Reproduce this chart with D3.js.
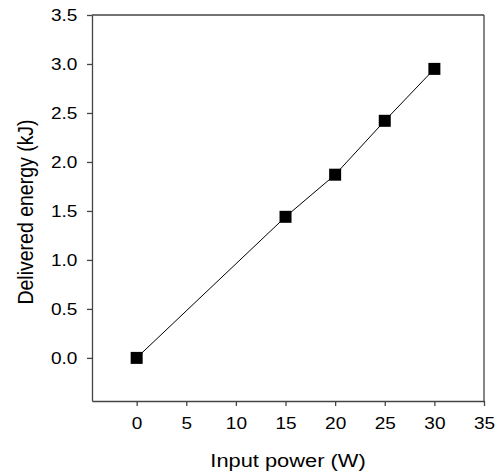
<!DOCTYPE html>
<html><head><meta charset="utf-8">
<script src="https://cdn.jsdelivr.net/npm/d3@7"></script>
<style>body{margin:0;background:#fff}svg{display:block}text{font-family:"Liberation Sans",Arial,sans-serif;fill:#000}</style>
</head><body>
<script>
const inputPower = [0, 15, 20, 25, 30];
const deliveredEnergy = [0.0, 1.44, 1.87, 2.42, 2.95];
const xTicks = [0, 5, 10, 15, 20, 25, 30, 35];
const yTicks = [0.0, 0.5, 1.0, 1.5, 2.0, 2.5, 3.0, 3.5];
const xTitle = "Input power (W)";
const yTitle = "Delivered energy (kJ)";

const W = 498, H = 474;
const m = {left: 92, right: 14, top: 15, bottom: 73};
const svg = d3.select("body").append("svg").attr("width", W).attr("height", H);
const x = d3.scaleLinear().domain([-4.5, 35]).range([m.left, W - m.right]);
const y = d3.scaleLinear().domain([-0.44, 3.5]).range([H - m.bottom, m.top]);

const axisColor = "#444";
const sx = 1.12;
const xAxis = svg.append("g").attr("transform", `translate(0,${H - m.bottom})`)
  .call(d3.axisBottom(x).tickValues(xTicks).tickFormat(d3.format("d")).tickSize(5).tickPadding(11).tickSizeOuter(0));
const yAxis = svg.append("g").attr("transform", `translate(${m.left},0)`)
  .call(d3.axisLeft(y).tickValues(yTicks).tickFormat(d3.format(".1f")).tickSize(5).tickPadding(8).tickSizeOuter(0));
[xAxis, yAxis].forEach(g => {
  g.selectAll("path.domain").attr("stroke", axisColor).attr("stroke-width", 1.3);
  g.selectAll(".tick line").attr("stroke", axisColor).attr("stroke-width", 1.3);
  g.selectAll(".tick text").attr("font-size", 17).attr("fill", "#000")
    .style("font-family", '"Liberation Sans",Arial,sans-serif')
    .attr("transform", `scale(${sx},1)`);
});
// top and right frame
svg.append("line").attr("x1", x(-4.5)).attr("x2", x(35)).attr("y1", y(3.5)).attr("y2", y(3.5)).attr("stroke", axisColor).attr("stroke-width", 1.3);
svg.append("line").attr("x1", x(35)).attr("x2", x(35)).attr("y1", y(3.5)).attr("y2", y(-0.44)).attr("stroke", axisColor).attr("stroke-width", 1.3);

const pts = inputPower.map((p, i) => [p, deliveredEnergy[i]]);
svg.append("path").datum(pts)
  .attr("d", d3.line().x(d => x(d[0])).y(d => y(d[1])))
  .attr("fill", "none").attr("stroke", "#000").attr("stroke-width", 1);
const s = 12;
svg.selectAll("rect.pt").data(pts).join("rect").attr("class", "pt")
  .attr("x", d => x(d[0]) - s / 2).attr("y", d => y(d[1]) - s / 2)
  .attr("width", s).attr("height", s).attr("fill", "#000");

svg.append("text").attr("transform", `translate(${(m.left + W - m.right) / 2},467) scale(1.15,1)`)
  .attr("text-anchor", "middle").attr("font-size", 19).text(xTitle);
svg.append("text").attr("transform", `translate(33,212) scale(1.1,1) rotate(-90)`)
  .attr("text-anchor", "middle").attr("font-size", 19.5).text(yTitle);
</script>
</body></html>
